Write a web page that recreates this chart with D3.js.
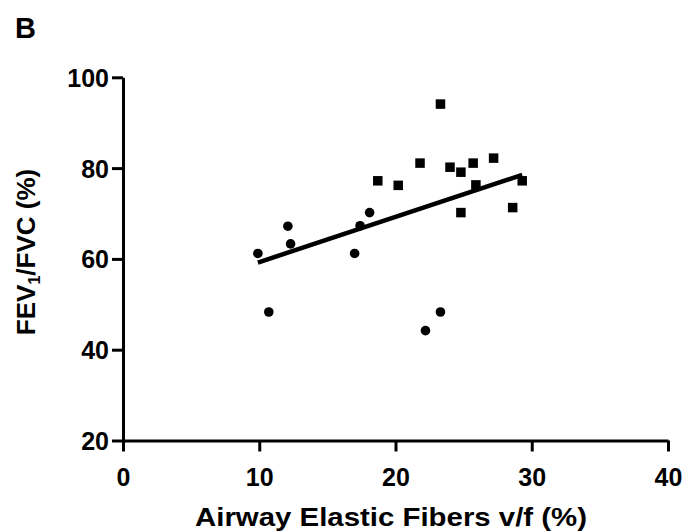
<!DOCTYPE html>
<html>
<head>
<meta charset="utf-8">
<script src="https://cdn.jsdelivr.net/npm/d3@7"></script>
<style>
  html, body { margin: 0; padding: 0; background: #fff; }
  svg { display: block; }
  text { font-family: "Liberation Sans", Arial, Helvetica, sans-serif; font-weight: bold; fill: #000; }
</style>
</head>
<body>
<svg id="chart" width="688" height="531"></svg>
<script>
// Data
const circleX = [9.9, 10.7, 12.1, 12.3, 17.0, 17.4, 18.1, 22.2, 23.3];
const circleY = [61.2, 48.3, 67.2, 63.3, 61.2, 67.3, 70.2, 44.2, 48.3];
const squareX = [18.7, 20.2, 21.8, 23.3, 24.0, 24.8, 24.8, 25.7, 25.9, 27.2, 28.6, 29.3];
const squareY = [77.2, 76.2, 81.1, 94.1, 80.2, 79.1, 70.2, 81.1, 76.3, 82.2, 71.3, 77.2];
const fitX = [9.9, 29.3];
const fitY = [59.2, 78.5];
const xTicks = [0, 10, 20, 30, 40];
const yTicks = [20, 40, 60, 80, 100];
const xTitle = "Airway Elastic Fibers v/f (%)";
const panelLabel = "B";

const svg = d3.select("#chart");
const x = d3.scaleLinear().domain([0, 40]).range([123, 668]);
const y = d3.scaleLinear().domain([20, 100]).range([440.5, 77.3]);

// Axes
const xAxis = svg.append("g").attr("transform", `translate(0,${y(20)})`)
  .call(d3.axisBottom(x).tickValues(xTicks).tickSize(11).tickSizeOuter(0).tickPadding(8));
const yAxis = svg.append("g").attr("transform", `translate(${x(0)},0)`)
  .call(d3.axisLeft(y).tickValues(yTicks).tickSize(11).tickSizeOuter(0).tickPadding(3));
[xAxis, yAxis].forEach(g => {
  g.select(".domain").attr("stroke", "#000").attr("stroke-width", 3);
  g.selectAll(".tick line").attr("stroke", "#000").attr("stroke-width", 3);
  g.selectAll(".tick text").attr("font-size", 25).attr("font-weight", "bold")
    .attr("font-family", '"Liberation Sans", Arial, sans-serif').attr("fill", "#000");
});
xAxis.selectAll(".tick text").attr("dy", "0.71em").attr("y", 28);
yAxis.selectAll(".tick text").attr("dy", "0.36em");

// Regression line
svg.append("line")
  .attr("x1", x(fitX[0])).attr("y1", y(fitY[0]))
  .attr("x2", x(fitX[1])).attr("y2", y(fitY[1]))
  .attr("stroke", "#000").attr("stroke-width", 4.5);

// Circles
const circles = circleX.map((v, i) => ({ x: v, y: circleY[i] }));
svg.append("g").selectAll("circle").data(circles).join("circle")
  .attr("cx", d => x(d.x)).attr("cy", d => y(d.y)).attr("r", 4.8).attr("fill", "#000");

// Squares
const squares = squareX.map((v, i) => ({ x: v, y: squareY[i] }));
const s = 9.5;
svg.append("g").selectAll("rect").data(squares).join("rect")
  .attr("x", d => x(d.x) - s / 2).attr("y", d => y(d.y) - s / 2)
  .attr("width", s).attr("height", s).attr("fill", "#000");

// Titles
svg.append("text").attr("x", 391).attr("y", 526).attr("text-anchor", "middle")
  .attr("font-size", 25).attr("textLength", 392).attr("lengthAdjust", "spacingAndGlyphs")
  .text(xTitle);

const yt = svg.append("text").attr("transform", "translate(35,252) rotate(-90)")
  .attr("text-anchor", "middle").attr("font-size", 26);
yt.append("tspan").text("FEV");
yt.append("tspan").attr("font-size", 16).attr("dy", 5).text("1");
yt.append("tspan").attr("dy", -5).text("/FVC (%)");

svg.append("text").attr("x", 15).attr("y", 38).attr("font-size", 29).text(panelLabel);
</script>
</body>
</html>
